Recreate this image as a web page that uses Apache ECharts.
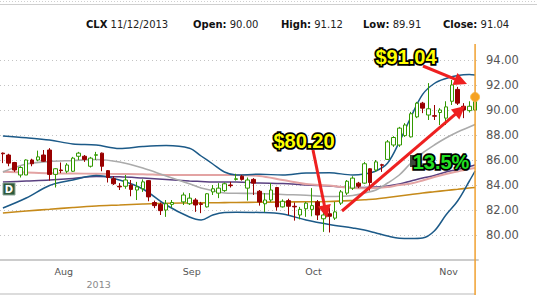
<!DOCTYPE html>
<html><head><meta charset="utf-8">
<script src="https://cdn.jsdelivr.net/npm/echarts@6/dist/echarts.min.js"></script>
<style>html,body{margin:0;padding:0;background:#fff;overflow:hidden}#c{width:537px;height:295px}</style>
</head><body><div id="c"></div>
<script>
const ticker = 'CLX';
const dates = [
'2013-07-22','2013-07-23','2013-07-24','2013-07-25','2013-07-26','2013-07-29','2013-07-30','2013-07-31',
'2013-08-01','2013-08-02','2013-08-05','2013-08-06','2013-08-07','2013-08-08','2013-08-09','2013-08-12','2013-08-13','2013-08-14','2013-08-15','2013-08-16','2013-08-19','2013-08-20','2013-08-21','2013-08-22','2013-08-23','2013-08-26','2013-08-27','2013-08-28','2013-08-29','2013-08-30',
'2013-09-02','2013-09-03','2013-09-04','2013-09-05','2013-09-06','2013-09-09','2013-09-10','2013-09-11','2013-09-12','2013-09-13','2013-09-16','2013-09-17','2013-09-18','2013-09-19','2013-09-20','2013-09-23','2013-09-24','2013-09-25','2013-09-26','2013-09-27','2013-09-30',
'2013-10-01','2013-10-02','2013-10-03','2013-10-04','2013-10-07','2013-10-08','2013-10-09','2013-10-10','2013-10-11','2013-10-14','2013-10-15','2013-10-16','2013-10-17','2013-10-18','2013-10-21','2013-10-22','2013-10-23','2013-10-24','2013-10-25','2013-10-28','2013-10-29','2013-10-30','2013-10-31',
'2013-11-01','2013-11-04','2013-11-05','2013-11-06','2013-11-07','2013-11-08','2013-11-11','2013-11-12'];
const opens = [86.55,86.40,85.80,84.80,84.80,86.00,86.00,86.40,
86.80,84.85,85.20,85.10,85.10,86.30,86.30,85.50,86.38,86.55,85.15,84.50,83.90,83.90,84.00,83.60,83.70,84.35,82.60,82.45,82.00,82.45,
null,82.65,82.50,82.80,82.50,82.25,83.45,83.35,83.55,84.00,84.45,84.70,83.75,84.45,83.50,82.50,82.80,83.80,82.25,82.75,82.30,
81.60,82.10,82.05,82.65,81.30,81.70,81.35,82.55,83.35,83.75,84.15,84.15,85.30,85.20,85.62,86.05,87.20,87.20,87.95,87.85,89.45,90.55,89.60,
89.55,89.80,89.35,90.70,91.65,90.30,89.95,90.00];
const highs = [86.60,86.50,85.85,85.50,86.05,86.10,86.75,86.80,
86.95,85.35,85.80,85.75,86.25,86.65,86.40,86.25,86.65,86.60,85.20,84.70,84.15,84.80,84.40,84.25,84.45,84.40,82.75,82.60,82.80,82.80,
null,83.40,83.35,82.95,82.65,83.35,84.00,84.15,84.20,84.25,84.90,84.80,84.60,84.55,83.60,83.35,84.15,83.85,82.85,82.90,82.60,
82.25,82.65,83.75,82.80,82.15,82.20,82.65,83.60,84.40,84.70,84.25,85.85,85.35,86.00,85.70,87.60,87.90,88.65,88.95,89.85,90.65,90.65,92.15,
90.40,90.15,90.70,92.40,91.85,90.55,90.70,91.12];
const lows = [85.75,85.50,85.05,84.60,84.80,85.50,85.90,85.85,
84.35,83.80,84.95,84.95,85.05,86.00,85.85,85.40,86.00,85.10,84.20,84.00,83.60,83.70,83.10,82.80,83.45,82.70,82.15,81.60,81.45,82.20,
null,82.40,82.40,81.85,81.75,82.20,83.20,82.95,83.45,83.80,84.35,84.35,82.75,83.20,82.35,81.85,82.65,81.95,82.20,81.60,81.15,
81.25,81.45,81.50,81.20,80.25,80.20,81.20,82.40,83.20,83.60,83.75,84.10,83.55,85.05,85.05,86.00,87.05,87.05,87.85,87.80,89.35,89.75,89.20,
89.20,88.80,88.80,90.40,90.40,89.35,89.80,89.91];
const closes = [86.50,85.75,85.20,85.40,86.00,85.70,86.25,85.90,
84.85,85.30,85.15,85.60,86.15,86.55,86.05,86.15,86.42,85.50,84.60,84.10,83.85,84.40,83.65,83.85,84.25,83.05,82.35,81.95,82.50,82.60,
null,83.20,82.95,82.40,82.45,83.30,83.70,83.75,84.10,83.95,84.50,84.45,84.40,84.15,82.65,82.80,83.60,82.25,82.70,82.30,82.25,
82.05,82.55,82.35,81.60,81.60,81.50,81.85,83.45,84.30,84.55,83.90,85.70,84.20,85.85,85.58,87.45,87.80,88.55,88.80,89.70,90.55,90.15,90.10,
89.50,90.00,90.25,92.00,90.55,90.00,90.30,91.04];

// indicator lines, read at these candle indices
const sampleIdx = [0,4,8,12,16,20,24,28,32,34,36,38,40,44,48,52,56,60,62,64,66,68,70,72,74,76,78,80,81];
const bbUpper  = [87.92,87.78,87.60,87.28,87.20,86.92,87.08,87.16,86.94,86.32,85.68,85.04,84.80,84.86,84.80,84.96,84.98,84.80,84.88,85.12,85.76,87.44,89.44,91.25,92.12,92.52,92.76,92.84,92.80];
const bbLower  = [82.16,82.96,83.96,84.40,84.76,84.40,83.68,82.40,81.44,81.20,81.60,81.80,81.82,81.80,81.68,81.20,80.84,80.56,80.40,80.16,79.92,79.74,79.72,79.76,80.32,81.60,82.72,84.30,85.12];
const smaGray  = [85.04,85.68,85.88,85.96,86.04,85.84,85.36,84.72,84.10,83.76,83.56,83.36,83.34,83.32,83.24,83.18,83.08,83.16,83.36,83.60,84.16,84.80,85.76,86.56,87.20,87.76,88.24,88.64,88.84];
const smaPink  = [85.06,85.00,84.94,84.92,84.90,84.88,84.86,84.80,84.80,84.80,84.80,84.80,84.80,84.72,84.40,84.08,83.96,83.76,83.74,83.76,83.84,84.00,84.12,84.36,84.64,84.88,85.08,85.28,85.36];
const smaPurple= [84.24,84.32,84.40,84.52,84.68,84.66,84.56,84.44,84.32,84.28,84.24,84.24,84.24,84.16,84.12,84.00,83.92,83.80,83.80,83.84,83.92,84.08,84.32,84.56,84.76,85.04,85.24,85.48,85.60];
const smaOrange= [81.76,81.92,82.06,82.20,82.32,82.40,82.48,82.54,82.56,82.57,82.58,82.59,82.60,82.62,82.64,82.66,82.68,82.76,82.82,82.88,83.00,83.12,83.24,83.36,83.46,83.56,83.66,83.76,83.80];

const yMin = 78, yMax = 95.2, yStep = 2;
const monthNames = ['Jan','Feb','Mar','Apr','May','Jun','Jul','Aug','Sep','Oct','Nov','Dec'];

const FONT = 'DejaVu Sans, Verdana, sans-serif';
const chart = echarts.init(document.getElementById('c'), null, {renderer: 'svg'});

const candleData = dates.map((d, i) => opens[i] == null ? '-' : [opens[i], closes[i], lows[i], highs[i]]);
const pairs = arr => sampleIdx.map((k, j) => [k, arr[j]]);
const last = dates.length - 1;
const isMonthStart = (idx) => idx > 0 && dates[idx].slice(5, 7) !== dates[idx - 1].slice(5, 7);
let firstMonthShown = false;

function lineSeries(name, arr, color, width) {
  return {type: 'line', name, data: pairs(arr), smooth: 0.35, symbol: 'none', silent: true,
    lineStyle: {color, width}, z: 1};
}

chart.setOption({
  animation: false,
  grid: {left: 0, right: 59, top: 45, bottom: 35},
  xAxis: {
    type: 'category', data: dates, boundaryGap: true,
    axisLine: {lineStyle: {color: '#cccccc', width: 2}},
    axisTick: {interval: (i) => isMonthStart(i), alignWithLabel: true, length: 6, lineStyle: {color: '#cccccc'}},
    axisLabel: {
      interval: (i) => isMonthStart(i), align: 'left', margin: 5,
      formatter: (v) => {
        const m = monthNames[parseInt(v.slice(5, 7), 10) - 1];
        if (v === dates.find((d, i) => isMonthStart(i))) return '{m|' + m + '}\n{y|' + v.slice(0, 4) + '}';
        return '{m|' + m + '}';
      },
      rich: {
        m: {fontFamily: FONT, fontSize: 9.5, color: '#555555', lineHeight: 13, padding: [0, 0, 0, 5]},
        y: {fontFamily: FONT, fontSize: 9.5, color: '#8a8a8a', lineHeight: 13, padding: [0, 0, 0, 37]}
      }
    },
    splitLine: {show: false}
  },
  yAxis: {
    type: 'value', position: 'right', min: yMin, max: yMax, interval: yStep, scale: true,
    axisLine: {show: false}, axisTick: {show: false},
    axisLabel: {margin: 8, fontFamily: FONT, fontSize: 11.5, color: '#555555',
      formatter: (v) => (v >= 80 && v <= 94 && Math.abs(v % 2) < 1e-9) ? v.toFixed(2) : ''},
    splitLine: {show: true, showMinLine: false, showMaxLine: false, lineStyle: {color: '#c4c4c4', type: [1, 3], width: 1}}
  },
  series: [
    lineSeries('200', smaOrange, '#c68a1a', 1.6),
    lineSeries('100', smaPurple, '#5a4080', 1.5),
    lineSeries('50', smaPink, '#e3a3a3', 2),
    lineSeries('20', smaGray, '#ababab', 1.6),
    lineSeries('BB upper', bbUpper, '#1c5a88', 1.5),
    lineSeries('BB lower', bbLower, '#1c5a88', 1.5),
    {
      type: 'candlestick', name: ticker, data: candleData, barWidth: 4, z: 3,
      itemStyle: {color: '#ffffff', color0: '#990000', borderColor: '#339900', borderColor0: '#990000', borderWidth: 1},
      markPoint: {
        symbol: 'circle', symbolSize: 9, silent: true, label: {show: false},
        itemStyle: {color: '#f7a21b', borderColor: '#f9c05a', borderWidth: 1},
        data: [{coord: [dates[last], closes[last]]}]
      }
    }
  ]
});

// ---- overlays
const xLast = chart.convertToPixel({xAxisIndex: 0}, dates[last]);
const lowMin = Math.min(...lows.filter(v => v != null));
const pct = ((closes[last] / lowMin - 1) * 100).toFixed(1) + '%';
const dParts = dates[last].split('-');
const dateStr = dParts[1] + '/' + dParts[2] + '/' + dParts[0];

function arrow(x1, y1, x2, y2) {
  const color = '#ee2020', w = 3, hl = 13, hw = 6.5;
  const dx = x2 - x1, dy = y2 - y1, L = Math.hypot(dx, dy), ux = dx / L, uy = dy / L;
  const bx = x2 - ux * hl, by = y2 - uy * hl, px = -uy, py = ux;
  return [
    {type: 'line', silent: true, z: 50, shape: {x1, y1, x2: bx + ux * 2, y2: by + uy * 2}, style: {stroke: color, lineWidth: w}},
    {type: 'polygon', silent: true, z: 50, shape: {points: [[x2, y2], [bx + px * hw, by + py * hw], [bx - px * hw, by - py * hw]]}, style: {fill: color}}
  ];
}
function hdr(x, label, value) {
  return {type: 'text', silent: true, x, y: 24, style: {
    text: '{b|' + label + '} ' + value, textVerticalAlign: 'middle', fill: '#222222',
    font: '10px ' + FONT, rich: {b: {fontWeight: 'bold', fontSize: 10, fontFamily: FONT, fill: '#111111', color: '#111111'}}}};
}
function callout(x, y, text, fill) {
  return {type: 'text', silent: true, z: 60, x, y, style: {
    text, textAlign: 'center', textVerticalAlign: 'middle', fill, stroke: '#000000', lineWidth: 3.5,
    font: 'bold 20px "Liberation Sans", Arial, sans-serif'}};
}

const graphics = [
  {type: 'line', silent: true, shape: {x1: 0, y1: 1.5, x2: 537, y2: 1.5}, style: {stroke: '#d0d0d0', lineWidth: 1, lineDash: [1, 2]}},
  {type: 'line', silent: true, shape: {x1: 0, y1: 4.5, x2: 537, y2: 4.5}, style: {stroke: '#cfcfcf', lineWidth: 1}},
  {type: 'line', silent: true, shape: {x1: 0, y1: 294, x2: xLast, y2: 294}, style: {stroke: '#d0d0d0', lineWidth: 1.5}},
  {type: 'line', silent: true, z: 40, shape: {x1: xLast, y1: 44, x2: xLast, y2: 295}, style: {stroke: '#f0a030', lineWidth: 1.5}},
  hdr(86, ticker, dateStr),
  hdr(193, 'Open:', opens[last].toFixed(2)),
  hdr(281, 'High:', highs[last].toFixed(2)),
  hdr(363, 'Low:', lows[last].toFixed(2)),
  hdr(443, 'Close:', closes[last].toFixed(2)),
  {type: 'rect', silent: true, z: 30, shape: {x: 3, y: 183, width: 12, height: 12}, style: {fill: '#2f5a3c', stroke: '#8fa89a', lineWidth: 1}},
  {type: 'text', silent: true, z: 31, x: 9, y: 189.5, style: {text: 'D', textAlign: 'center', textVerticalAlign: 'middle', fill: '#ffffff', font: 'bold 10px ' + FONT}},
  {type: 'rect', silent: true, z: 55, shape: {x: 410, y: 155, width: 8, height: 12}, style: {fill: '#3c4a3c'}},
  ...arrow(313, 150, 327, 218),
  ...arrow(423, 66, 467, 84),
  ...arrow(342, 211, 465, 106),
  callout(304, 141, '$' + lowMin.toFixed(2), '#ffff00'),
  callout(406, 57, '$' + closes[last].toFixed(2), '#ffff00'),
  callout(441, 162, pct, '#22e022')
];
chart.setOption({graphic: graphics});
</script></body></html>
